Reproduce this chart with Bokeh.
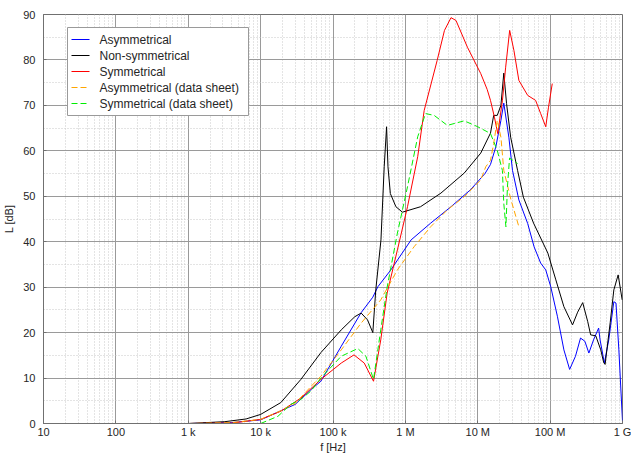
from bokeh.plotting import figure
from bokeh.models import FixedTicker, BoxAnnotation, Arrow, Label
from bokeh.embed import file_html
from bokeh.resources import INLINE

# ---- data (frequency in Hz, level in dB) ----
f_asym = [100, 1000, 4000, 10e3, 19e3, 30e3, 50e3, 68e3, 130e3, 245e3, 355e3, 417e3,
          630e3, 1.2e6, 2.24e6, 4.27e6, 7.9e6, 12.6e6, 15e6, 17.8e6, 20.9e6, 22.9e6,
          26.9e6, 30.2e6, 37e6, 49e6, 60e6, 74e6, 87e6, 102e6, 126e6, 155e6, 186e6,
          224e6, 263e6, 302e6, 343e6, 398e6, 468e6, 490e6, 562e6, 646e6, 759e6, 813e6,
          891e6, 955e6, 1e9]
L_asym = [0, 0, 0.2, 0.8, 2.8, 4.2, 7.5, 9.3, 17, 24.4, 27.8, 30.1,
          33.8, 40.4, 44.1, 47.7, 51.4, 55, 57, 60.9, 66.7, 70.5,
          63, 55.7, 49.2, 44, 38.9, 35.3, 33.8, 30.1, 23.6, 16.2, 11.9,
          14.8, 18.8, 18.1, 15.5, 18.4, 21, 18.4, 13.3, 18.4, 26.8, 26.5,
          16.2, 6.7, 0.5]

f_nonsym = [100, 1000, 3200, 6300, 10e3, 19e3, 36e3, 68e3, 130e3, 200e3, 245e3, 300e3,
            355e3, 390e3, 460e3, 510e3, 550e3, 575e3, 620e3, 740e3, 910e3, 1.62e6,
            3.1e6, 6.5e6, 11e6, 15e6, 16.6e6, 18.6e6, 20.9e6, 22.9e6, 25e6, 28.5e6,
            35.5e6, 42.7e6, 59e6, 93e6, 120e6, 155e6, 204e6, 240e6, 282e6, 331e6,
            363e6, 427e6, 501e6, 550e6, 575e6, 676e6, 759e6, 871e6, 990e6]
L_nonsym = [0, 0, 0.4, 1.0, 2.0, 4.6, 9.7, 15.6, 20.6, 23.5, 24.3, 22.8,
            20.0, 29.4, 40.4, 56.5, 65.3, 56.5, 50.6, 47.7, 46.5, 47.7,
            50.7, 55.1, 59.5, 63.9, 67.8, 67.8, 70.0, 77.1, 70.4, 63.0,
            55.7, 49.8, 44.1, 37.5, 31.6, 25.7, 21.7, 24.5, 26.6, 22.4,
            19.5, 19.3, 16.2, 13.4, 13.0, 22.2, 29.4, 32.7, 27.2]

f_sym = [80, 1000, 4000, 10e3, 19e3, 36e3, 68e3, 130e3, 195e3, 270e3, 363e3, 457e3,
         560e3, 776e3, 1.07e6, 1.48e6, 1.82e6, 2.75e6, 3.47e6, 4.27e6, 5e6, 7.2e6,
         11e6, 13.5e6, 15e6, 17e6, 18.9e6, 21.9e6, 24.3e6, 27.6e6, 31.6e6, 37e6,
         49e6, 63e6, 74e6, 87e6, 95e6, 107e6]
L_sym = [0, 0, 0.1, 0.9, 2.7, 5.6, 9.7, 13.3, 15.1, 13.3, 9.3, 18.4,
         28.7, 38.2, 47.7, 58.7, 68.9, 79.9, 86.5, 89.3, 88.7, 82.8,
         77.0, 73.5, 71.1, 67.4, 63.8, 71.0, 78.4, 86.5, 82.1, 75.5,
         72.2, 71.1, 68.2, 65.3, 69.6, 74.8]

f_asym_ds = [100, 1000, 4000, 10e3, 19e3, 30e3, 50e3, 68e3, 130e3, 245e3, 457e3, 776e3,
             1.32e6, 2.24e6, 3.8e6, 6.5e6, 11e6, 12.9e6, 15e6, 16.6e6, 18.6e6, 20.9e6,
             22.9e6, 28.8e6, 37e6]
L_asym_ds = [0, 0, 0.2, 0.9, 2.8, 4.4, 8.2, 10.4, 16.2, 22.1, 27.2, 33.8,
             38.9, 43.3, 47.0, 49.9, 53.6, 56.5, 57.9, 61.6, 66.7, 63.0,
             55.7, 49.2, 43.3]

f_sym_ds = [10e3, 17.4e3, 26e3, 36e3, 50e3, 68e3, 130e3, 220e3, 285e3, 363e3, 457e3,
            560e3, 776e3, 1.07e6, 1.48e6, 1.9e6, 2.5e6, 3.8e6, 6.5e6, 10e6, 13.5e6,
            15e6, 18.6e6, 21.9e6, 22.9e6, 24.5e6, 25.7e6, 27.5e6, 35.5e6]
L_sym_ds = [0, 1.6, 4.2, 5.3, 7.2, 10.0, 14.8, 16.5, 14.8, 9.7, 20.6,
            30.0, 41.9, 52.1, 63.1, 68.2, 67.8, 65.6, 66.6, 65.3, 64.2,
            63.8, 60.1, 55.7, 48.4, 43.3, 52.0, 58.4, 57.2]

series_labels = ["Asymmetrical", "Non-symmetrical", "Symmetrical",
                 "Asymmetrical (data sheet)", "Symmetrical (data sheet)"]
series_colors = ["#0000ff", "#000000", "#ff0000", "#ffa500", "#00ee00"]
series_dashes = ["solid", "solid", "solid", "6 3", "6 3"]

x_ticks = [10, 100, 1e3, 1e4, 1e5, 1e6, 1e7, 1e8, 1e9]
x_tick_labels = ["10", "100", "1 k", "10 k", "100 k", "1 M", "10 M", "100 M", "1 G"]
y_ticks = [0, 10, 20, 30, 40, 50, 60, 70, 80, 90]

FONT = "Liberation Sans"
TXT = "#262626"

p = figure(width=631, height=455, x_axis_type="log", x_range=(10, 1e9), y_range=(0, 90),
           output_backend="svg", toolbar_location=None,
           min_border_left=42, min_border_right=9, min_border_top=14, min_border_bottom=0)
p.background_fill_color = "white"
p.border_fill_color = "white"
p.outline_line_color = "#707070"
p.outline_line_width = 1

minor_x = [m * 10 ** e for e in range(1, 9) for m in range(2, 10)]
p.xaxis.ticker = FixedTicker(ticks=x_ticks, minor_ticks=minor_x)
p.xaxis.major_label_overrides = {t: l for t, l in zip(x_ticks, x_tick_labels)}
p.yaxis.ticker = FixedTicker(ticks=y_ticks, minor_ticks=[5, 15, 25, 35, 45, 55, 65, 75, 85])

for ax in (p.xaxis[0], p.yaxis[0]):
    ax.axis_line_color = "#707070"
    ax.major_tick_in = 3
    ax.major_tick_out = 0
    ax.minor_tick_in = 0
    ax.minor_tick_out = 0
    ax.major_tick_line_color = "#707070"
    ax.major_label_text_font = FONT
    ax.major_label_text_font_size = "11px"
    ax.major_label_text_color = TXT
    ax.axis_label_text_font = FONT
    ax.axis_label_text_font_size = "11px"
    ax.axis_label_text_font_style = "normal"
    ax.axis_label_text_color = TXT

p.xaxis.axis_label = "f [Hz]"
p.yaxis.axis_label = "L [dB]"
p.xaxis.major_label_standoff = 2
p.xaxis.axis_label_standoff = 0
p.yaxis.major_label_standoff = 8
p.yaxis.axis_label_standoff = 5

for g in (p.xgrid[0], p.ygrid[0]):
    g.grid_line_color = "#9a9a9a"
    g.grid_line_width = 1
    g.minor_grid_line_color = "#c8c8c8"
    g.minor_grid_line_dash = "1 2"
    g.minor_grid_line_width = 1

series = [(f_asym, L_asym), (f_nonsym, L_nonsym), (f_sym, L_sym),
          (f_asym_ds, L_asym_ds), (f_sym_ds, L_sym_ds)]
for (fx, ly), col, dash in zip(series, series_colors, series_dashes):
    p.line(fx, ly, line_color=col, line_width=1, line_dash=dash)

# ---- legend box (screen units, measured from the frame's bottom-left corner) ----
LEG_LEFT, LEG_RIGHT, LEG_BOTTOM, LEG_TOP = 24, 205, 308, 396
ROW_TOP, ROW_STEP = 384, 16
SW_X0, SW_X1, TXT_X = 28, 46, 56

p.add_layout(BoxAnnotation(left=LEG_LEFT, right=LEG_RIGHT, bottom=LEG_BOTTOM, top=LEG_TOP,
                           left_units="screen", right_units="screen",
                           bottom_units="screen", top_units="screen",
                           fill_color="white", fill_alpha=1.0,
                           line_color="#9a9a9a", line_width=1, line_alpha=1.0))
# labels first, swatches afterwards
for i, lab in enumerate(series_labels):
    yrow = ROW_TOP - i * ROW_STEP
    p.add_layout(Label(x=TXT_X, y=yrow, x_units="screen", y_units="screen", text=lab,
                       text_font=FONT, text_font_size="12px", text_color=TXT,
                       text_baseline="middle", text_align="left"))
for i, (col, dash) in enumerate(zip(series_colors, series_dashes)):
    yrow = ROW_TOP - i * ROW_STEP
    p.add_layout(Arrow(x_start=SW_X0, y_start=yrow, x_end=SW_X1, y_end=yrow,
                       start_units="screen", end_units="screen", end=None,
                       line_color=col, line_width=1.2, line_dash=dash))

open("out.html", "w").write(file_html(p, INLINE))
